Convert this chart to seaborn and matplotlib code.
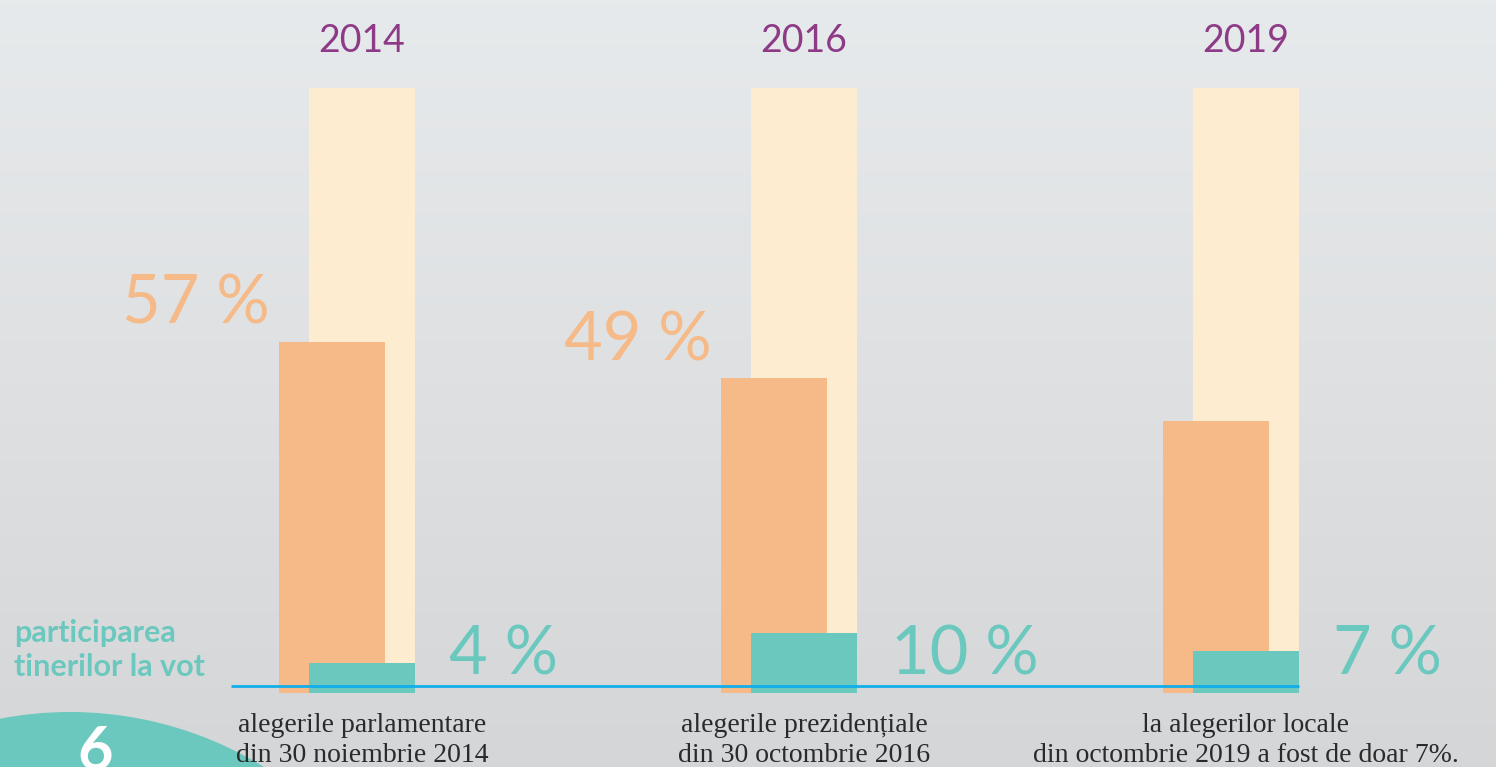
import numpy as np
import pandas as pd
import matplotlib
matplotlib.use("Agg")
import matplotlib.pyplot as plt
import seaborn as sns
from matplotlib.patches import Circle

# ---------------- data ----------------
years = ["2014", "2016", "2019"]
total_bar = [100, 100, 100]
general_turnout = [58, 52, 45]          # drawn heights of the orange bars
general_labels = ["57 %", "49 %", ""]
youth_turnout = [5, 10, 7]              # drawn heights of the teal bars
youth_labels = ["4 %", "10 %", "7 %"]
captions = [
    ("alegerile parlamentare", "din 30 noiembrie 2014"),
    ("alegerile prezidențiale", "din 30 octombrie 2016"),
    ("la alegerilor locale", "din octombrie 2019 a fost de doar 7%."),
]
side_label = "participarea\ntinerilor la vot"
page_number = "6"

# ---------------- style ----------------
sns.set_theme(style="white")
plt.rcParams["font.family"] = ["Lato", "DejaVu Sans"]

CREAM = "#feecd0"
ORANGE = "#f5ba88"
TEAL = "#6bc8be"
PURPLE = "#8e3b87"
BLUE = "#12aeea"
TEXT = "#2a2a2a"

W, H = 1496, 767
fig = plt.figure(figsize=(W / 100, H / 100), dpi=100)

# background gradient + decorative circle (pixel coordinates)
bg = fig.add_axes([0, 0, 1, 1], zorder=0)
grad = np.linspace(0, 1, 256)[:, None]
top = np.array([0.906, 0.918, 0.925])
bot = np.array([0.835, 0.839, 0.847])
img = top[None, None, :] * (1 - grad[..., None]) + bot[None, None, :] * grad[..., None]
bg.imshow(img, extent=[0, W, H, 0], aspect="auto")
bg.add_patch(Circle((70, 712 + 370), 370, color=TEAL, lw=0))
bg.set_xlim(0, W)
bg.set_ylim(H, 0)
bg.axis("off")

# main axes: x in group units, y in percent
ax = fig.add_axes([0, 0, 1, 1], zorder=1)
ax.patch.set_alpha(0)
px_per_x = 442.0
x0_px = 362.0
px_per_y = 6.05
base_px = 693.0

pos = np.arange(len(years))
bar_w = 106 / px_per_x
orange_shift = -30 / px_per_x

df_total = pd.DataFrame({"pos": pos, "val": total_bar})
df_gen = pd.DataFrame({"pos": pos + orange_shift, "val": general_turnout})
df_young = pd.DataFrame({"pos": pos, "val": youth_turnout})

for d, col in [(df_total, CREAM), (df_gen, ORANGE), (df_young, TEAL)]:
    sns.barplot(data=d, x="pos", y="val", native_scale=True, orient="x",
                width=bar_w, color=col, saturation=1, errorbar=None,
                linewidth=0, ax=ax)

ax.set_xlim(-x0_px / px_per_x, (W - x0_px) / px_per_x)
ax.set_ylim(-(H - base_px) / px_per_y, base_px / px_per_y)
ax.axis("off")

# blue baseline
ax.hlines((base_px - 686) / px_per_y, (231 - x0_px) / px_per_x,
          pos[-1] + bar_w / 2, color=BLUE, lw=2.0, zorder=10)

# labels
for i, yr in enumerate(years):
    ax.text(pos[i], 106, yr, ha="center", va="baseline", fontsize=27,
            color=PURPLE, zorder=11)
    if general_labels[i]:
        ax.text(pos[i] + orange_shift - bar_w / 2 - 9 / px_per_x,
                general_turnout[i] + 3, general_labels[i],
                ha="right", va="baseline", fontsize=48, fontweight="normal",
                color=ORANGE, zorder=11)
    ax.text(pos[i] + bar_w / 2 + 34 / px_per_x, 3.0, youth_labels[i],
            ha="left", va="baseline", fontsize=48, fontweight="normal",
            color=TEAL, zorder=11)
    l1, l2 = captions[i]
    ax.text(pos[i], (base_px - 732) / px_per_y, l1, ha="center", va="baseline",
            fontsize=20, family="Liberation Serif", color=TEXT, zorder=11)
    ax.text(pos[i], (base_px - 762) / px_per_y, l2, ha="center", va="baseline",
            fontsize=20, family="Liberation Serif", color=TEXT, zorder=11)

fig.text(14 / W, 1 - 676 / H, side_label, ha="left", va="baseline",
         fontsize=22, fontweight="bold", color=TEAL, linespacing=1.28, zorder=12)
fig.text(95 / W, 1 - 770 / H, page_number, ha="center", va="baseline",
         fontsize=44, fontweight="bold", color="white", zorder=12)

fig.savefig("out.png", dpi=100)
